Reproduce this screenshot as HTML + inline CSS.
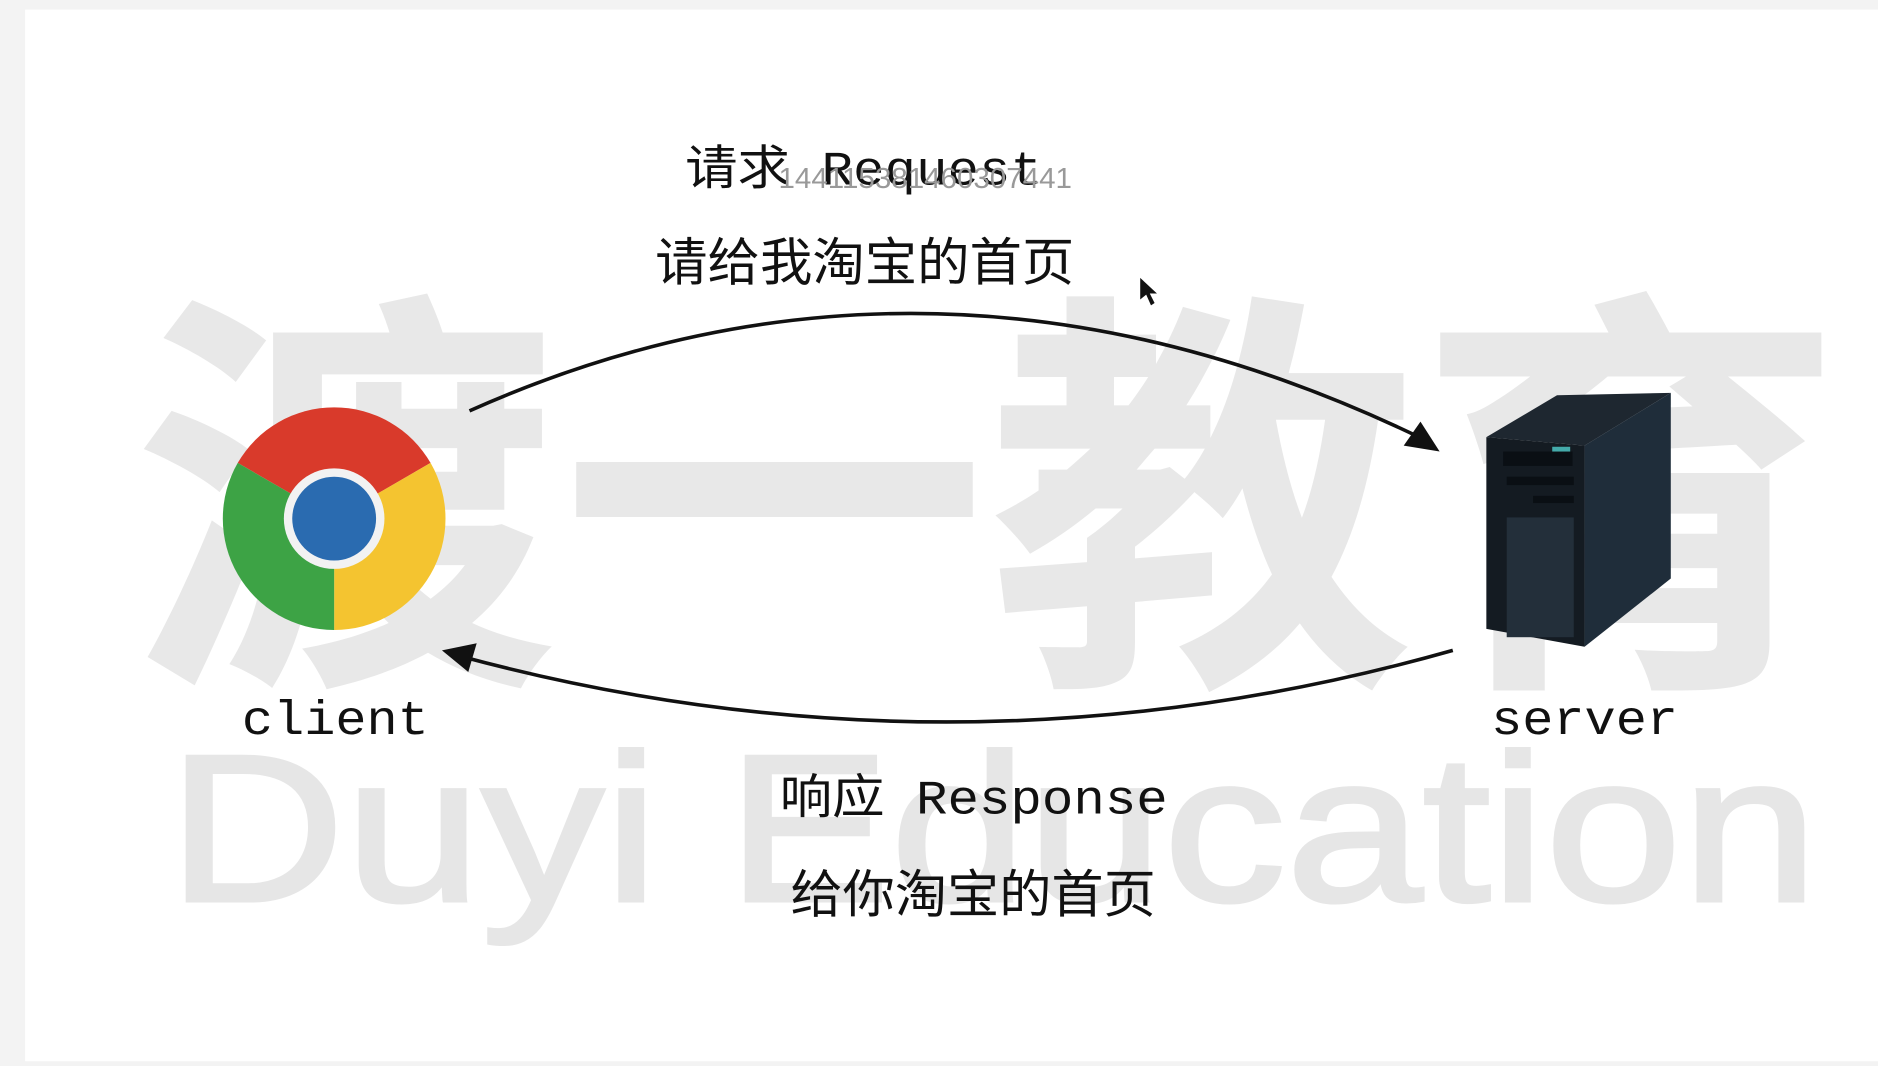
<!DOCTYPE html>
<html><head><meta charset="utf-8"><style>
html,body{margin:0;padding:0;background:#fff;}
svg{display:block;}
.m{font-family:"Liberation Mono","Noto Sans CJK SC",monospace;fill:#111;}
.c{font-family:"Liberation Sans","Noto Sans CJK SC",sans-serif;fill:#111;}
</style></head><body>
<svg width="1878" height="1066" viewBox="0 0 1568 890" preserveAspectRatio="none" xmlns="http://www.w3.org/2000/svg">
<rect x="0" y="0" width="1568" height="890" fill="#f3f3f3"/>
<rect x="21" y="8" width="1547" height="878" fill="#fff"/>
<!-- watermarks -->
<text x="110" y="545" font-size="350" font-weight="bold" fill="#e8e8e8" textLength="1430" lengthAdjust="spacingAndGlyphs" style="font-family:'Noto Sans CJK SC',sans-serif">渡一教育</text>
<text x="140" y="752" font-size="175" fill="#e6e6e6" stroke="#e6e6e6" stroke-width="3" textLength="1378" lengthAdjust="spacingAndGlyphs" style="font-family:'Liberation Sans',sans-serif">Duyi Education</text>
<!-- labels -->
<text x="572" y="154" font-size="40" class="m" textLength="298" lengthAdjust="spacingAndGlyphs" style="font-family:'Liberation Mono','Noto Sans CJK SC',monospace">请求 Request</text>
<text x="650" y="157" font-size="24" fill="#999" textLength="245" lengthAdjust="spacingAndGlyphs" style="font-family:'Liberation Sans',sans-serif">144115381460307441</text>
<text x="547" y="234" font-size="43" class="c" textLength="350" lengthAdjust="spacingAndGlyphs" style="font-family:'Noto Sans CJK SC',sans-serif">请给我淘宝的首页</text>
<text x="651" y="679" font-size="40" class="m" textLength="324" lengthAdjust="spacingAndGlyphs" style="font-family:'Liberation Mono','Noto Sans CJK SC',monospace">响应 Response</text>
<text x="660" y="762" font-size="43" class="c" textLength="305" lengthAdjust="spacingAndGlyphs" style="font-family:'Noto Sans CJK SC',sans-serif">给你淘宝的首页</text>
<text x="202" y="613" font-size="40" class="m" textLength="156" lengthAdjust="spacingAndGlyphs">client</text>
<text x="1245" y="613" font-size="40" class="m" textLength="156" lengthAdjust="spacingAndGlyphs">server</text>
<!-- arcs -->
<path d="M392,343 Q780,170 1185,365" fill="none" stroke="#111" stroke-width="3"/>
<polygon points="1202,377 1172,372 1186,352" fill="#111"/>
<path d="M1213,543 Q800,660 385,548" fill="none" stroke="#111" stroke-width="3"/>
<polygon points="369,543 398,537 391,561" fill="#111"/>
<!-- cursor -->
<polygon points="952,232 952,250 957,246 961,255 964,253 960,245 966,245" fill="#111"/>
<!-- chrome -->
<g>
<path d="M279,433 L198.5,386.5 A93,93 0 0 1 359.5,386.5 Z" fill="#d93a2b"/>
<path d="M279,433 L359.5,386.5 A93,93 0 0 1 279,526 Z" fill="#f4c430"/>
<path d="M279,433 L279,526 A93,93 0 0 1 198.5,386.5 Z" fill="#3da345"/>
<circle cx="279" cy="433" r="42" fill="#f2f2f2"/>
<circle cx="279" cy="433" r="35" fill="#2a6bb0"/>
</g>
<!-- server -->
<g>
<polygon points="1241,365 1300,330 1395,328 1323,372" fill="#1e2730"/>
<polygon points="1323,372 1395,328 1395,483 1323,540" fill="#1f2d3a"/>
<polygon points="1241,365 1323,372 1323,540 1241,525" fill="#141b22"/>
<rect x="1255" y="377" width="58" height="12" fill="#0a0f14"/>
<rect x="1296" y="373" width="15" height="4" fill="#4aa"/>
<rect x="1258" y="398" width="56" height="7" fill="#0a0f14"/>
<rect x="1280" y="414" width="34" height="6" fill="#0a0f14"/>
<rect x="1258" y="432" width="56" height="100" fill="#232f3a"/>
</g>
</svg>
</body></html>
